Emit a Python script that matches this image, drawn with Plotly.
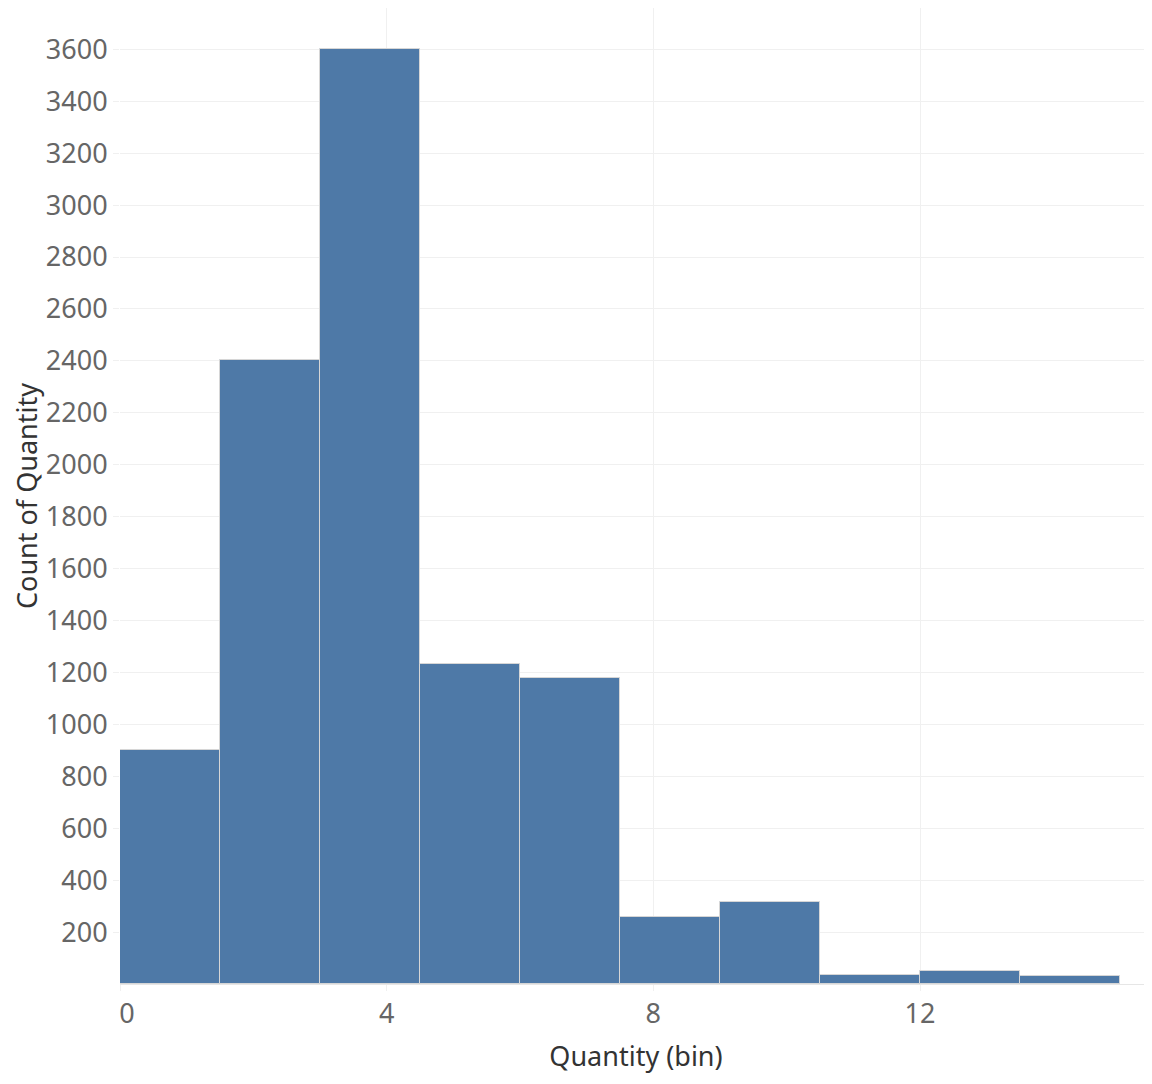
import plotly.graph_objects as go

# bins of width 1.5 on Quantity
bin_start = [0, 1.5, 3, 4.5, 6, 7.5, 9, 10.5, 12, 13.5]
bin_size = 1.5
counts = [900, 2403, 3600, 1232, 1178, 258, 314, 33, 49, 29]

y_ticks = list(range(200, 3800, 200))
x_ticks = [0, 4, 8, 12]
# first label sits a little right of its tick, like the original
x_tick_labels = ['\u00a0\u00a00', '4', '8', '12']

fig = go.Figure()
fig.add_trace(go.Bar(
    x=bin_start,
    y=counts,
    width=[bin_size] * len(bin_start),
    offset=0,
    marker=dict(color='#4e79a7', line=dict(color='#d6d6d6', width=1)),
))

# page body has an 8px margin, so margins are shifted to compensate
fig.update_layout(
    width=1152, height=1084,
    margin=dict(l=112, r=8, t=0, b=108),
    plot_bgcolor='white', paper_bgcolor='white',
    font=dict(family='Noto Sans', color='#666666'),
    showlegend=False,
    bargap=0,
)
fig.update_xaxes(
    range=[0, 15.48],
    tickvals=x_ticks,
    ticktext=x_tick_labels,
    tickfont=dict(size=27, color='#666666'),
    showgrid=True, gridcolor='#f0f0f0', gridwidth=1,
    zeroline=False,
    ticks='outside', ticklen=6, tickcolor='#f0f0f0',
    showline=True, linecolor='#e6e6e6',
    title=dict(text='Quantity (bin)', font=dict(size=27, color='#333333', family='Noto Sans'), standoff=16),
)
fig.update_yaxes(
    range=[0, 3759],
    tickvals=y_ticks,
    tickfont=dict(size=27, color='#666666'),
    showgrid=True, gridcolor='#f0f0f0', gridwidth=1,
    zeroline=False,
    ticks='outside', ticklen=6, tickcolor='#f0f0f0',
    title=dict(text='Count of Quantity', font=dict(size=27, color='#333333', family='Noto Sans'), standoff=9),
)

fig.write_html('out.html')
